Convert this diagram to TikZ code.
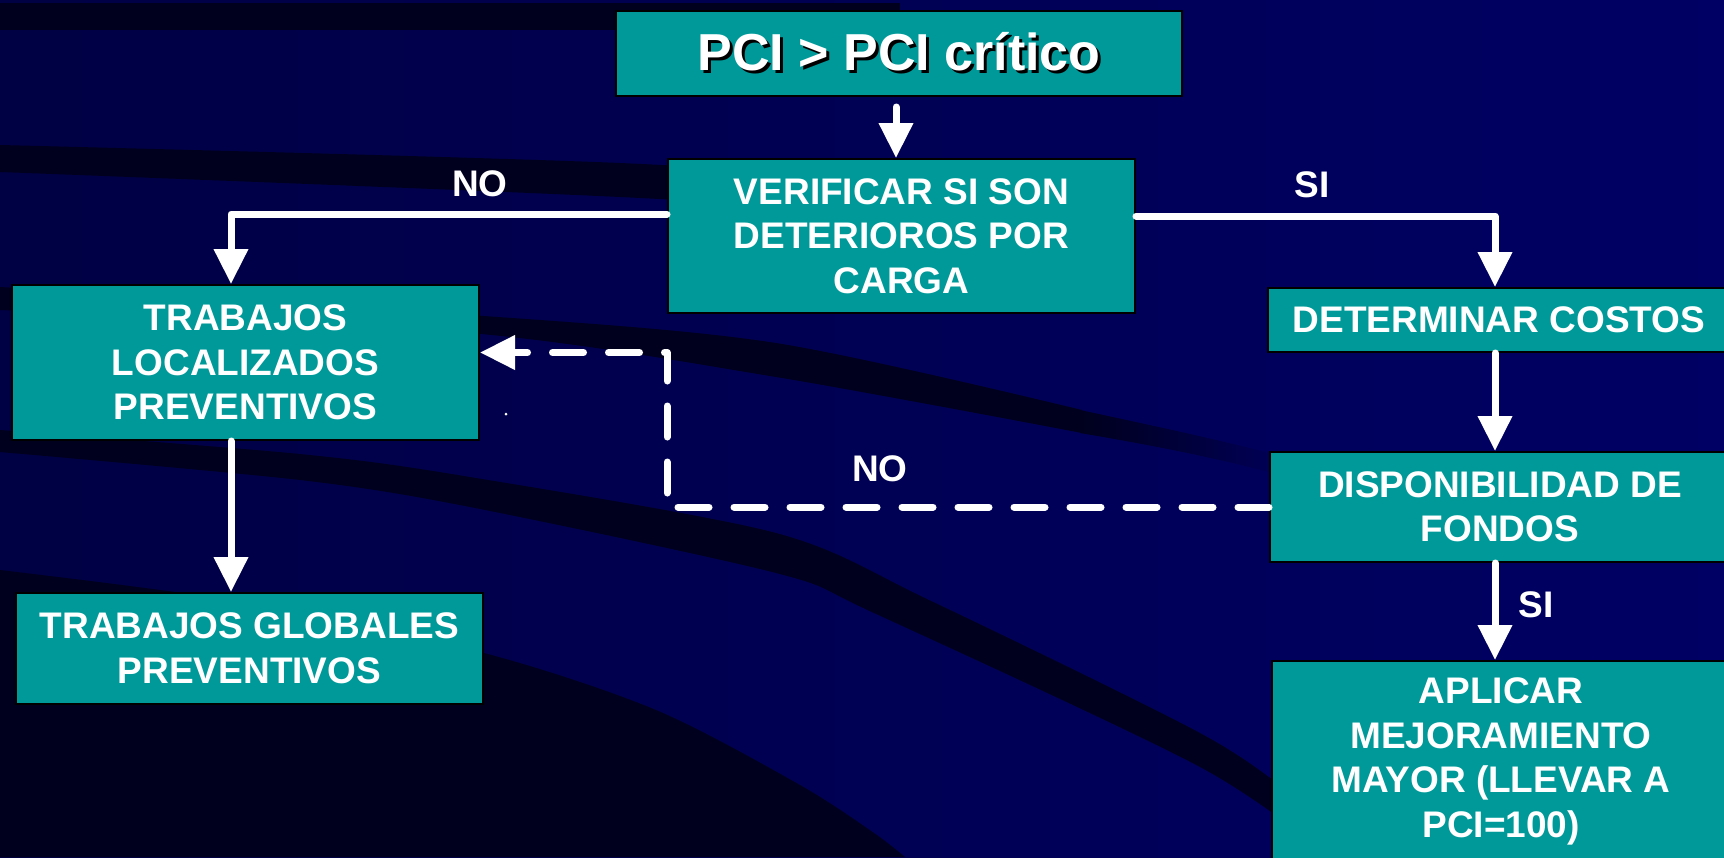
\documentclass[tikz,border=0pt]{standalone}
\usepackage{fontspec}
\setmainfont{Liberation Sans}
\usetikzlibrary{arrows.meta,fadings}
\definecolor{bgL}{HTML}{000044}
\definecolor{bgR}{HTML}{000064}
\definecolor{bandc}{HTML}{00001E}
\definecolor{boxteal}{HTML}{009999}
\tikzfading[name=fadeR, left color=transparent!0, right color=transparent!100]
\begin{document}
\begin{tikzpicture}[x=1pt,y=-1pt,
  box/.style={draw=black, line width=2pt, fill=boxteal, text=white, inner sep=0pt, align=center,
    font=\fontsize{37}{44.5}\selectfont\bfseries},
  lbl/.style={text=white, inner sep=0pt, font=\fontsize{37}{44.5}\selectfont\bfseries},
  arr/.style={draw=white, line width=7pt, line cap=round, line join=round,
    -{Triangle[width=33pt,length=35pt]}},
  dasharr/.style={arr, dash pattern=on 31pt off 25pt},
  band/.style={fill=bandc}
]
\useasboundingbox (0,0) rectangle (1724,857);
\clip (0,0) rectangle (1724,857);
% background
\shade[left color=bgL, right color=bgR] (0,0) rectangle (1724,857);
\fill[band] (0,3) rectangle (900,30);
\fill[band] plot[smooth] coordinates {(0,145) (620,163) (1000,188)}
  -- plot[smooth] coordinates {(1000,220) (620,197) (0,172)} -- cycle;
\fill[band] plot[smooth] coordinates {(0,287) (470,315) (776,343) (1082,410)}
  -- plot[smooth] coordinates {(1082,433) (776,377) (470,333) (0,310)} -- cycle;
\fill[band, path fading=fadeR] (1080,410) .. controls (1150,425) and (1220,440) .. (1290,458)
  -- (1290,478) .. controls (1220,458) and (1150,445) .. (1080,433) -- cycle;
\fill[band] plot[smooth] coordinates {(0,430) (300,454) (470,477) (776,533) (929,600) (1200,733) (1300,800) (1380,857)}
  -- plot[smooth] coordinates {(1330,857) (1200,767) (874,613) (776,573) (470,507) (300,480) (0,452)} -- cycle;
\fill[band] plot[smooth] coordinates {(0,570) (250,603) (484,653) (656,710) (800,785) (874,833) (905,857)}
  -- (0,857) -- cycle;
\fill[white] (506,414) circle (1.5pt);
% boxes
\node[box, minimum width=566pt, minimum height=85pt, font=\fontsize{52}{60}\selectfont\bfseries] (title) at (899,53.5)
  {\leavevmode\rlap{\hspace{3pt}\raisebox{-3pt}{\color{black}PCI > PCI crítico}}PCI > PCI crítico};
\node[box, minimum width=467pt, minimum height=154pt] (verify) at (901.5,236)
  {VERIFICAR SI SON\\DETERIOROS POR\\CARGA};
\node[box, minimum width=467pt, minimum height=155pt] (TL) at (245.5,362.5)
  {TRABAJOS\\LOCALIZADOS\\PREVENTIVOS};
\node[box, minimum width=467pt, minimum height=111pt] (TG) at (249.5,648.5)
  {TRABAJOS GLOBALES\\PREVENTIVOS};
\node[box, minimum width=462pt, minimum height=64pt] (DC) at (1499,320)
  {DETERMINAR COSTOS};
\node[box, minimum width=460pt, minimum height=110pt] (DF) at (1500,507)
  {DISPONIBILIDAD DE\\FONDOS};
\node[box, minimum width=458pt, minimum height=201pt] (AP) at (1501,761.5)
  {APLICAR\\MEJORAMIENTO\\MAYOR (LLEVAR A\\PCI=100)};
% labels
\node[lbl] (noL) at (480,184) {NO};
\node[lbl] (siT) at (1312,185) {SI};
\node[lbl] (noD) at (880,469) {NO};
\node[lbl] (siB) at (1536,605) {SI};
% connectors
\draw[arr] ([xshift=-3pt,yshift=-10pt]title.south) -- ([xshift=-3pt]title.south |- verify.north);
\draw[arr] ([yshift=22pt]verify.west) -| ([xshift=-14.5pt]TL.north);
\draw[arr] ([yshift=20pt]verify.east) -| ([xshift=-4pt]DC.north);
\draw[arr] ([xshift=-4pt]DC.south) -- ([xshift=-4pt]DC.south |- DF.north);
\draw[arr] ([xshift=-5pt]DF.south) -- ([xshift=-5pt]DF.south |- AP.north);
\draw[arr] ([xshift=-14.5pt]TL.south) -- ([xshift=-14.5pt]TL.south |- TG.north);
\coordinate (dA) at (667,507);
\coordinate (dB) at (667,352.5);
\draw[dasharr] (DF.west) -- (dA) -- (dB) -- ([yshift=10pt]TL.east);
\end{tikzpicture}
\end{document}
